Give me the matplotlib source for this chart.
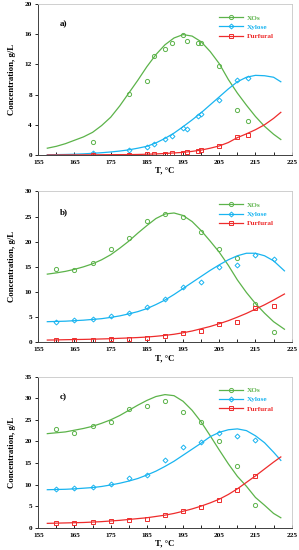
# XOs / Xylose / Furfural concentration vs temperature (3 panels)

import matplotlib.pyplot as plt
from matplotlib.lines import Line2D

plt.rcParams['font.family'] = ['Liberation Serif', 'DejaVu Serif']
plt.rcParams['font.weight'] = 'bold'
plt.rcParams['axes.labelweight'] = 'bold'

GREEN = '#5cb34a'
BLUE = '#19b4f0'
RED = '#ee2c2c'

# ---- panel a) data ----
t_pts_a = [170, 180, 185, 187, 190, 192, 195, 196, 199, 200, 205, 210, 213]
xos_a = [1.7, 8.1, 9.85, 13.1, 14.05, 14.85, 15.9, 15.1, 14.85, 14.9, 11.8, 6.0, 4.5]
xyl_a = [0.2, 0.65, 1.05, 1.5, 2.1, 2.55, 3.6, 3.45, 5.1, 5.4, 7.3, 9.9, 10.2]
fur_a = [0.0, 0.05, 0.08, 0.1, 0.15, 0.22, 0.3, 0.38, 0.5, 0.6, 1.15, 2.35, 2.7]

t_fit_a = [157.5, 160, 162.5, 165, 167.5, 170, 172.5, 175, 177.5, 180, 182.5, 185, 187.5,
           190, 192.5, 195, 197.5, 200, 202.5, 205, 207.5, 210, 212.5, 215, 217.5, 220, 222]
xos_fit_a = [0.9, 1.15, 1.5, 1.95, 2.4, 3.0, 3.9, 5.0, 6.5, 8.2, 9.9, 11.7, 13.3,
             14.6, 15.5, 15.95, 15.75, 15.0, 13.7, 12.1, 10.0, 8.2, 6.6, 5.1, 3.8, 2.75, 2.05]
xyl_fit_a = [0.03, 0.05, 0.07, 0.1, 0.15, 0.22, 0.3, 0.4, 0.52, 0.68, 0.9, 1.15, 1.6,
             2.2, 2.9, 3.75, 4.65, 5.6, 6.65, 7.7, 8.75, 9.7, 10.3, 10.55, 10.5, 10.3, 9.7]
fur_fit_a = [0.0, 0.0, 0.01, 0.01, 0.02, 0.02, 0.03, 0.04, 0.05, 0.05, 0.07, 0.1, 0.14,
             0.2, 0.27, 0.35, 0.48, 0.65, 0.9, 1.2, 1.65, 2.3, 2.8, 3.35, 4.0, 4.85, 5.65]

# ---- panel b) data ----
t_pts_b = [160, 165, 170, 175, 180, 185, 190, 195, 200, 205, 210, 215, 220]
xos_b = [14.5, 14.3, 15.8, 18.6, 20.7, 24.1, 25.4, 25.0, 21.9, 18.5, 16.7, 7.6, 2.1]
xyl_b = [4.1, 4.35, 4.55, 5.3, 5.75, 6.95, 8.55, 10.9, 12.0, 15.0, 15.3, 17.3, 16.6]
fur_b = [0.4, 0.5, 0.5, 0.65, 0.75, 0.9, 1.2, 1.8, 2.25, 3.65, 4.0, 6.9, 7.2]

t_fit_b = [157.5, 160, 162.5, 165, 167.5, 170, 172.5, 175, 177.5, 180, 182.5, 185, 187.5,
           190, 192.5, 195, 197.5, 200, 202.5, 205, 207.5, 210, 212.5, 215, 217.5, 220, 223]
xos_fit_b = [13.55, 13.8, 14.1, 14.5, 15.0, 15.6, 16.4, 17.4, 18.7, 20.1, 21.7, 23.2, 24.6,
             25.5, 25.7, 25.2, 24.0, 22.2, 20.1, 17.9, 15.3, 12.4, 9.9, 7.7, 5.8, 4.1, 2.6]
xyl_fit_b = [4.1, 4.15, 4.2, 4.3, 4.4, 4.55, 4.7, 4.95, 5.25, 5.65, 6.1, 6.7, 7.5,
             8.4, 9.5, 10.7, 11.9, 13.1, 14.3, 15.4, 16.4, 17.2, 17.7, 17.7, 17.2, 16.2, 14.2]
fur_fit_b = [0.45, 0.48, 0.52, 0.55, 0.58, 0.62, 0.67, 0.72, 0.8, 0.87, 0.95, 1.05, 1.2,
             1.38, 1.6, 1.9, 2.25, 2.7, 3.15, 3.7, 4.3, 5.0, 5.75, 6.6, 7.45, 8.4, 9.6]

# ---- panel c) data ----
t_pts_c = [160, 165, 170, 175, 180, 185, 190, 195, 200, 205, 210, 215]
xos_c = [22.9, 22.0, 23.6, 24.5, 27.6, 28.3, 29.4, 26.8, 24.4, 20.1, 14.4, 5.3]
xyl_c = [9.0, 9.1, 9.45, 10.1, 11.6, 12.3, 15.6, 18.7, 19.8, 22.0, 21.3, 20.3]
fur_c = [1.15, 1.15, 1.3, 1.5, 1.85, 2.0, 2.95, 3.8, 4.8, 6.5, 8.7, 12.0]

t_fit_c = t_fit_a
xos_fit_c = [21.8, 22.0, 22.2, 22.6, 23.0, 23.5, 24.2, 25.0, 26.0, 27.2, 28.4, 29.5, 30.4,
             30.85, 30.6, 29.3, 27.2, 24.5, 21.3, 18.0, 14.8, 11.9, 9.6, 7.0, 5.2, 3.3, 2.3]
xyl_fit_c = [8.8, 8.85, 8.9, 9.0, 9.15, 9.3, 9.55, 9.9, 10.3, 10.8, 11.4, 12.2, 13.1,
             14.2, 15.4, 16.8, 18.2, 19.6, 21.1, 22.1, 22.7, 22.9, 22.5, 21.3, 19.7, 17.5, 15.6]
fur_fit_c = [1.0, 1.05, 1.1, 1.15, 1.2, 1.3, 1.4, 1.55, 1.7, 1.9, 2.1, 2.3, 2.6,
             2.9, 3.3, 3.8, 4.35, 5.0, 5.75, 6.6, 7.7, 9.0, 10.5, 12.0, 13.6, 15.2, 16.4]

panels = [
    ('a)', 20, 4, t_pts_a, (xos_a, xyl_a, fur_a), t_fit_a, (xos_fit_a, xyl_fit_a, fur_fit_a)),
    ('b)', 30, 5, t_pts_b, (xos_b, xyl_b, fur_b), t_fit_b, (xos_fit_b, xyl_fit_b, fur_fit_b)),
    ('c)', 35, 5, t_pts_c, (xos_c, xyl_c, fur_c), t_fit_c, (xos_fit_c, xyl_fit_c, fur_fit_c)),
]
names = ['XOs', 'Xylose', 'Furfural']
colors = [GREEN, BLUE, RED]
markers = ['o', 'D', 's']
msizes = [3.0, 2.5, 2.9]

fig = plt.figure(figsize=(2.99, 5.5), dpi=100)
bottoms = [0.7182, 0.3776, 0.0406]

for (tag, ymax, ystep, tp, pts, tf, fits), b in zip(panels, bottoms):
    ax = fig.add_axes([0.128, b, 0.8475, 0.2745])
    for y, yf, c, m, ms in zip(pts, fits, colors, markers, msizes):
        ax.plot(tf, yf, color=c, lw=0.9)
        ax.plot(tp, y, ls='none', marker=m, ms=ms, mfc='none', mec=c, mew=0.7)

    ax.set_xlim(155, 225)
    ax.set_ylim(0, ymax)
    ax.set_xticks(range(155, 226, 5))
    ax.set_xticklabels([str(v) if (v - 155) % 10 == 0 else '' for v in range(155, 226, 5)],
                       fontweight='bold')
    ax.set_yticks(range(0, ymax + 1, ystep))
    ax.set_yticklabels([str(v) for v in range(0, ymax + 1, ystep)], fontweight='bold')
    ax.tick_params(axis='x', direction='in', length=2.5, width=0.6, labelsize=5.2, pad=3.5)
    ax.tick_params(axis='y', direction='out', length=2, width=0.6, labelsize=5.2, pad=2.5)
    for s in ['top', 'right']:
        ax.spines[s].set_color('#c8c8c8')
        ax.spines[s].set_linewidth(0.6)
    for s in ['left', 'bottom']:
        ax.spines[s].set_color('#404040')
        ax.spines[s].set_linewidth(0.7)

    ax.set_xlabel('T, °C', fontsize=6.3, fontweight='bold', labelpad=1.5)
    ax.set_ylabel('Concentration, g/L', fontsize=6.3, fontweight='bold', labelpad=6)
    ax.text(0.086, 0.85, tag, transform=ax.transAxes, fontsize=6.5, fontweight='bold')

    handles = [Line2D([], [], color=c, lw=0.9, marker=m, ms=ms, mfc='none', mec=c, mew=0.7)
               for c, m, ms in zip(colors, markers, msizes)]
    leg = ax.legend(handles, names, loc='upper left', bbox_to_anchor=(0.7, 0.95),
                    frameon=False, prop={'size': 5.2, 'weight': 'bold'}, handlelength=3.4,
                    handletextpad=0.5, labelspacing=0.45, borderaxespad=0)
    for txt, c in zip(leg.get_texts(), colors):
        txt.set_color(c)

plt.savefig('out.png', dpi=100)
